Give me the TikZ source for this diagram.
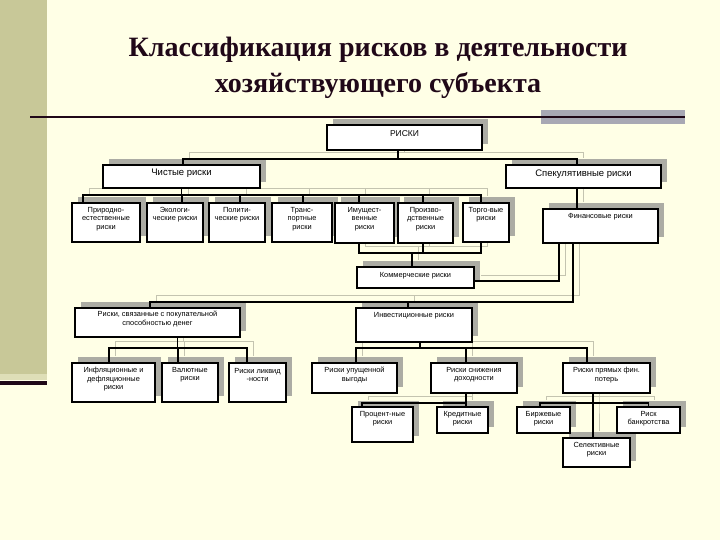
\documentclass[tikz,border=0pt]{standalone}
\usepackage{fontspec}
\setmainfont{Liberation Serif}
\newfontfamily\boxfont{Liberation Sans}
\usetikzlibrary{fit}
\pgfdeclarelayer{backdrop}
\pgfdeclarelayer{shadow}
\pgfsetlayers{backdrop,shadow,main}
\definecolor{bg}{HTML}{FFFFE6}
\definecolor{olive}{HTML}{C8C898}
\definecolor{shd}{HTML}{ACACA4}
\definecolor{lshd}{HTML}{C4C4B0}
\definecolor{titlec}{HTML}{200818}
\definecolor{barg}{HTML}{A8A8B4}
\tikzset{
  box/.style={draw=black, line width=1.6pt, fill=white, inner sep=0pt},
  txt/.style={font=\boxfont\fontsize{7.4}{8.4}\selectfont, align=center, inner sep=0pt, text=black},
  conn/.style={line width=1.6pt},
}
\newcommand\bx[7][5]{%
  \begin{pgfonlayer}{shadow}\fill[shd] (#3+6,#4-6) rectangle (#5+6,#6-6);\end{pgfonlayer}
  \node[box, fit={(#3,#4) (#5,#6)}] (#2) {};
  \node[txt, anchor=north] (#2-t) at ([yshift=-#1pt]#2.north) {#7};
}
\newcommand\connectors{%
  % РИСКИ
  \draw[conn] ([xshift=-6.5pt]riski.south) -- ++(0,8) coordinate (rb) -| ([xshift=1.5pt]chist.north);
  \draw[conn] (rb) -| ([xshift=-6.5pt]spek.north);
  % Чистые
  \draw[conn] (chist.south) -- ++(0,6) coordinate (cb);
  \draw[conn] (cb) -| ([xshift=-23pt]prir.north);
  \draw[conn] (cb) -| ([xshift=-5pt]torg.north);
  \draw[conn] ([xshift=7pt]eko.north |- cb) -- ([xshift=7pt]eko.north);
  \draw[conn] ([xshift=3pt]polit.north |- cb) -- ([xshift=3pt]polit.north);
  \draw[conn] ([xshift=1pt]trans.north |- cb) -- ([xshift=1pt]trans.north);
  \draw[conn] ([xshift=-5.5pt]imush.north |- cb) -- ([xshift=-5.5pt]imush.north);
  \draw[conn] ([xshift=-2.5pt]proizv.north |- cb) -- ([xshift=-2.5pt]proizv.north);
  % Спекулятивные
  \draw[conn] ([xshift=-6.5pt]spek.south) -- ([xshift=-23.5pt]fin.north);
  % Коммерческие
  \draw[conn] ([xshift=-5.5pt]imush.south) -- ++(0,9) coordinate (kb) -| ([xshift=-5pt]torg.south);
  \draw[conn] ([xshift=-2.5pt]proizv.south) -- ([xshift=-2.5pt]proizv.south |- kb);
  \draw[conn] ([xshift=-3.5pt]komm.north) -- ([xshift=-3.5pt]komm.north |- kb);
  \draw[conn] ([xshift=-41.5pt]fin.south) |- ([yshift=-3.5pt]komm.east);
  % Финансовые -> покупательная, инвестиционные
  \draw[conn] ([xshift=-27.5pt]fin.south) -- ++(0,58) coordinate (fb) -| ([xshift=-7.5pt]pokup.north);
  \draw[conn] ([xshift=-6pt]invest.north |- fb) -- ([xshift=-6pt]invest.north);
  % покупательная
  \draw[conn] ([xshift=20pt]pokup.south) -- ++(0,10) coordinate (pb);
  \draw[conn] (pb) -| ([xshift=-4.5pt]infl.north);
  \draw[conn] (pb) -| ([xshift=-10.5pt]likv.north);
  \draw[conn] ([xshift=-12pt]val.north |- pb) -- ([xshift=-12pt]val.north);
  % Инвестиционные
  \draw[conn] ([xshift=6pt]invest.south) -- ++(0,5) coordinate (ib);
  \draw[conn] (ib) -| ([xshift=1.5pt]upush.north);
  \draw[conn] (ib) -| ([xshift=-19.5pt]pryam.north);
  \draw[conn] ([xshift=-8pt]snizh.north |- ib) -- ([xshift=-8pt]snizh.north);
  % Снижения доходности
  \draw[conn] ([xshift=-8pt]snizh.south) -- ([xshift=3.5pt]kred.north);
  \draw[conn] ([xshift=-8pt]snizh.south) ++(0,9) -| ([xshift=-20.5pt]proc.north);
  % Прямых потерь
  \draw[conn] ([xshift=-13.5pt]pryam.south) -- ++(0,9) coordinate (pp) -- ([xshift=-3.5pt]sel.north);
  \draw[conn] ([xshift=-3.5pt]birzh.north) |- (pp) -| (bank.north);
}
\begin{document}
\begin{tikzpicture}[x=1pt, y=-1pt]
\useasboundingbox (0,0) rectangle (720,540);
\begin{pgfonlayer}{backdrop}
\fill[bg] (0,0) rectangle (720,540);
% left stripe
\fill[olive] (0,0) rectangle (47,374);
\fill[olive!60!bg] (0,374) rectangle (47,380);
\fill[titlec] (0,381) rectangle (47,385);
\end{pgfonlayer}
% title
\node[font=\bfseries\fontsize{28}{36}\selectfont, text=titlec, align=center] (title) at (378,68)
  {Классификация рисков в деятельности\\хозяйствующего субъекта};
\fill[barg] (541,110) rectangle (685,124);
\draw[line width=2.5pt, titlec] (30,117) -- (685,117);
% boxes
\bx[6]{riski}{327}{125}{482}{150}{\fontsize{8.5}{9}\selectfont РИСКИ}
\bx[5]{chist}{103}{165}{260}{188}{\fontsize{9.5}{10}\selectfont Чистые риски}
\bx[5]{spek}{506}{165}{661}{188}{\fontsize{9.5}{10}\selectfont Спекулятивные риски}
\bx{prir}{72}{203}{140}{242}{Природно-\\естественные\\риски}
\bx{eko}{147}{203}{203}{242}{Экологи-\\ческие риски}
\bx{polit}{209}{203}{265}{242}{Полити-\\ческие  риски}
\bx{trans}{272}{203}{332}{242}{Транс-\\портные\\риски}
\bx{imush}{335}{203}{394}{243}{Имущест-\\венные\\риски}
\bx{proizv}{398}{203}{453}{243}{Произво-\\дственные\\риски}
\bx{torg}{463}{203}{509}{242}{Торго-вые\\риски}
\bx[5]{fin}{543}{209}{658}{243}{Финансовые риски}
\bx[6]{komm}{357}{267}{474}{288}{Коммерческие риски}
\bx[4]{pokup}{75}{308}{240}{337}{Риски, связанные с покупательной\\способностью денег}
\bx[5]{invest}{356}{308}{472}{342}{Инвестиционные риски}
\bx{infl}{72}{363}{155}{402}{Инфляционные и\\дефляционные\\риски}
\bx{val}{162}{363}{218}{402}{Валютные\\риски}
\bx[6]{likv}{229}{363}{286}{402}{Риски ликвид\\-ности}
\bx{upush}{312}{363}{397}{393}{Риски упущенной\\выгоды}
\bx{snizh}{431}{363}{517}{393}{Риски снижения\\доходности}
\bx{pryam}{563}{363}{650}{393}{Риски прямых фин.\\потерь}
\bx{proc}{352}{407}{413}{442}{Процент-ные\\риски}
\bx{kred}{437}{407}{488}{433}{Кредитные\\риски}
\bx{birzh}{517}{407}{570}{433}{Биржевые\\риски}
\bx{bank}{617}{407}{680}{433}{Риск\\банкротства}
\bx{sel}{563}{438}{630}{467}{Селективные\\риски}
% connectors
\begin{pgfonlayer}{shadow}
\begin{scope}[transform canvas={shift={(6pt,6pt)}}, conn/.style={line width=1pt, draw=lshd}]
\connectors
\end{scope}
\end{pgfonlayer}
\connectors
\end{tikzpicture}
\end{document}
